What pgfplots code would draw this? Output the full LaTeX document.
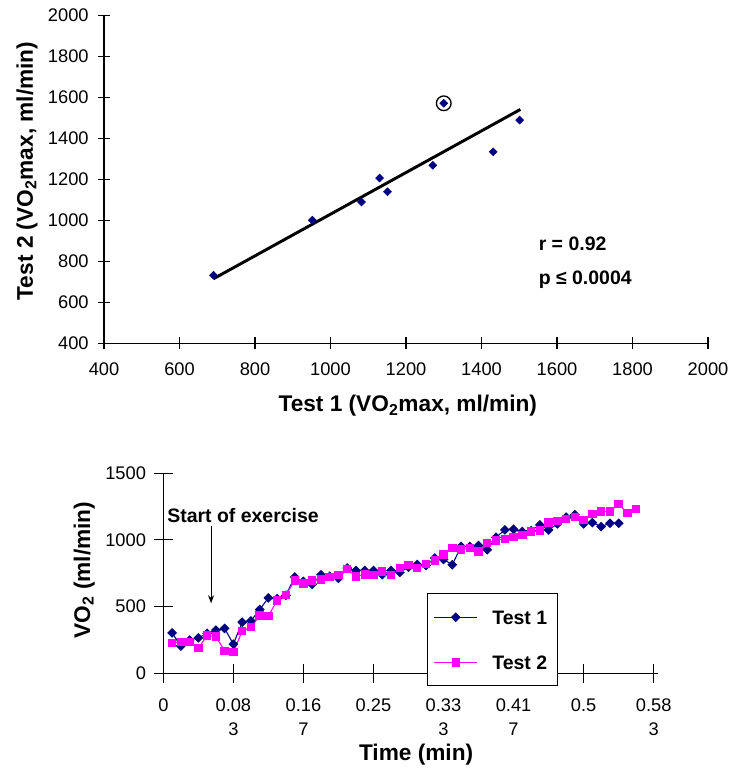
\documentclass[border=0pt]{standalone}
\usepackage{fontspec}
\setmainfont{Liberation Sans}
\usepackage{pgfplots}
\usepackage{pgfplotstable}
\pgfplotsset{compat=1.18}
\usetikzlibrary{arrows.meta}

\definecolor{navy}{RGB}{0,0,128}
\definecolor{pinkish}{RGB}{255,0,255}
\newcommand\ticksize{\fontsize{13.7}{17}\selectfont}
\newcommand\lblsize{\fontsize{17}{20}\selectfont}
\newcommand\txtsize{\fontsize{14.6}{17}\selectfont}

% regression of test 2 against test 1
\pgfplotstableread{
t1 t2
690 732
952 1001
1082 1090
1130 1207
1151 1140
1271 1269
1300 1572
1431 1335
1501 1490
}\vomax

% breath data, time in min
\pgfplotstableread{
t vo
0.0104 303
0.0208 204
0.0313 249
0.0417 266
0.0521 299
0.0625 323
0.0729 336
0.0833 219
0.0938 383
0.1042 393
0.1146 478
0.1250 565
0.1354 560
0.1458 585
0.1563 722
0.1667 689
0.1771 667
0.1875 739
0.1979 727
0.2083 712
0.2188 789
0.2292 771
0.2396 771
0.2500 771
0.2604 739
0.2708 771
0.2813 757
0.2917 796
0.3021 816
0.3125 809
0.3229 864
0.3333 854
0.3438 814
0.3542 951
0.3646 951
0.3750 958
0.3854 926
0.3958 1020
0.4063 1075
0.4167 1080
0.4271 1063
0.4375 1070
0.4479 1113
0.4583 1075
0.4688 1120
0.4792 1170
0.4896 1190
0.5000 1120
0.5104 1130
0.5208 1100
0.5313 1125
0.5417 1125
}\testone

\pgfplotstableread{
t vo
0.0104 229
0.0208 236
0.0313 236
0.0417 190
0.0521 282
0.0625 276
0.0729 169
0.0833 158
0.0938 316
0.1042 345
0.1146 432
0.1250 430
0.1354 547
0.1458 585
0.1563 697
0.1667 672
0.1771 697
0.1875 702
0.1979 722
0.2083 739
0.2188 781
0.2292 727
0.2396 741
0.2500 739
0.2604 764
0.2708 739
0.2813 791
0.2917 811
0.3021 789
0.3125 821
0.3229 846
0.3333 891
0.3438 938
0.3542 928
0.3646 938
0.3750 913
0.3854 978
0.3958 996
0.4063 1008
0.4167 1020
0.4271 1038
0.4375 1063
0.4479 1070
0.4583 1132
0.4688 1140
0.4792 1157
0.4896 1170
0.5000 1150
0.5104 1195
0.5208 1212
0.5313 1212
0.5417 1270
0.5521 1200
0.5625 1232
}\testtwo

\pgfplotsset{
  vstyle/.style={
    scale only axis,
    axis x line*=bottom, axis y line*=left,
    axis line style={black, line width=0.8pt, -},
    tick align=center,
    tick style={black, line width=0.8pt},
    ticklabel style={font=\ticksize},
    /pgf/number format/assume math mode=true,
    /pgf/number format/1000 sep={},
    label style={font=\bfseries\lblsize},
    clip=false,
  },
}

\begin{document}
\begin{tikzpicture}
\path[use as bounding box] (0pt,0pt) rectangle (552pt,579.75pt);

\begin{axis}[vstyle,
  at={(78pt,322.3pt)}, anchor=south west,
  width=453pt, height=245.7pt,
  xmin=400, xmax=2000, ymin=400, ymax=2000,
  xtick distance=200, ytick distance=200,
  major tick length=9pt,
  xticklabel style={yshift=-6.5pt},
  yticklabel style={xshift=-3.5pt},
  xlabel={Test 1 (VO\textsubscript{2}max, ml/min)},
  ylabel={Test 2 (VO\textsubscript{2}max, ml/min)},
  xlabel style={at={(axis description cs:0.503,-0.191)}, anchor=center},
  ylabel style={at={(axis description cs:-0.1275,0.526)}, anchor=center},
]
\addplot[only marks, mark=square*, mark size=2.1pt,
  mark options={rotate=45, fill=navy, draw=navy}] table[x=t1, y=t2] {\vomax};
\addplot[black, line width=2.2pt] coordinates {(690,715) (1503,1542)};
\addplot[only marks, mark=o, mark size=5.5pt,
  mark options={black, line width=1pt}] coordinates {(1300,1572)};
\node[anchor=west, inner sep=0pt, font=\bfseries\txtsize] at (axis cs:1551,885) {r = 0.92};
\node[anchor=west, inner sep=0pt, font=\bfseries\txtsize] at (axis cs:1551,712) {p ≤ 0.0004};
\end{axis}

\begin{axis}[vstyle,
  at={(122.5pt,74.8pt)}, anchor=south west,
  width=371pt, height=150pt,
  xmin=0, xmax=0.5885, ymin=0, ymax=1500,
  xtick={0,0.08333,0.16667,0.25,0.33333,0.41667,0.5,0.58333},
  xticklabels={0,{0.08\\3},{0.16\\7},0.25,{0.33\\3},{0.41\\7},0.5,{0.58\\3}},
  xticklabel style={align=center, anchor=north, yshift=-8.3pt,
    font=\fontsize{13.7}{18.5}\selectfont},
  yticklabel style={xshift=-2.5pt},
  ytick={0,500,1000,1500},
  major tick length=14pt,
  xlabel={Time (min)},
  ylabel={VO\textsubscript{2} (ml/min)},
  xlabel style={at={(axis description cs:0.511,-0.4085)}, anchor=center},
  ylabel style={at={(axis description cs:-0.160,0.5165)}, anchor=center},
  legend style={at={(rel axis cs:0.5324,0.4)}, anchor=north west,
    draw=black, line width=0.8pt, fill=white, font=\bfseries\txtsize,
    nodes={inner sep=3pt, text depth=0pt, text height=10.5pt},
    row sep=17.25pt, inner xsep=5pt, inner ysep=9.4pt},
  legend cell align=left,
  legend image code/.code={
    \draw[mark repeat=2, mark phase=2, #1] plot coordinates {(0pt,0pt) (16pt,0pt) (32pt,0pt)};},
]
\addplot[navy, line width=0.8pt, mark=square*, mark size=2.2pt,
  mark options={rotate=45, fill=navy, draw=navy}] table[x=t, y=vo] {\testone};
\addlegendentry{\hspace{8pt}Test 1\hspace{10pt}}
\addplot[pinkish, line width=0.8pt, mark=square*, mark size=2.75pt,
  mark options={fill=pinkish, draw=pinkish}] table[x=t, y=vo] {\testtwo};
\addlegendentry{\hspace{8pt}Test 2\hspace{10pt}}
\node[anchor=west, inner sep=0pt, font=\bfseries\txtsize] at (axis cs:0.0044,1182) {Start of exercise};
\draw[-{Stealth[length=6pt]}, line width=0.8pt] (axis cs:0.0568,1108) -- (axis cs:0.0568,525);
\end{axis}
\end{tikzpicture}
\end{document}
